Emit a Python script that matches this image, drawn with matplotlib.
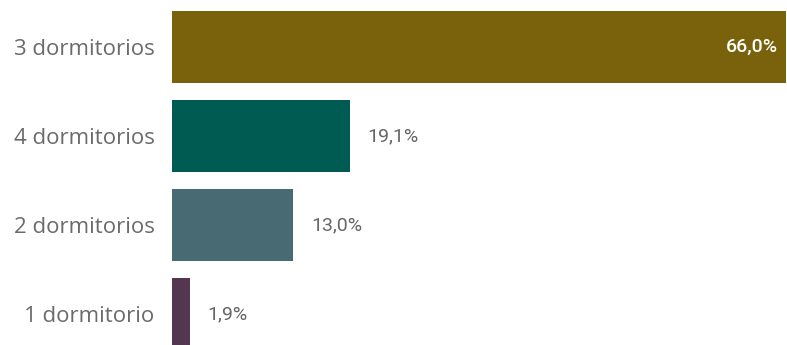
import matplotlib
matplotlib.use("Agg")
import matplotlib.pyplot as plt

categories = ["3 dormitorios", "4 dormitorios", "2 dormitorios", "1 dormitorio"]
values = [66.0, 19.1, 13.0, 1.9]
colors = ["#79620B", "#005B52", "#476A73", "#533650"]

fig = plt.figure(figsize=(7.87, 3.45), dpi=100)
ax = fig.add_axes([172 / 787, 0, 1 - 172 / 787, 1])

pos = list(range(len(categories)))
ax.barh(pos, values, height=0.81, color=colors)

ax.set_xlim(0, 66.1)
ax.set_ylim(3.348, -0.528)
ax.set_yticks(pos)
ax.set_yticklabels(categories, fontsize=16, color="#6b6b6b", family="Open Sans")
ax.tick_params(axis="y", length=0, pad=12.5)
ax.set_xticks([])
for s in ax.spines.values():
    s.set_visible(False)

for p, v in zip(pos, values):
    txt = f"{v:.1f}%".replace(".", ",")
    if v > 40:
        ax.annotate(txt, (v, p), xytext=(-6, 0), textcoords="offset points",
                    ha="right", va="center", fontsize=14, color="white",
                    family="Roboto", fontweight="medium")
    else:
        ax.annotate(txt, (v, p), xytext=(13, 0), textcoords="offset points",
                    ha="left", va="center", fontsize=14, color="#666666",
                    family="Roboto")

fig.savefig("out.png", dpi=100)
